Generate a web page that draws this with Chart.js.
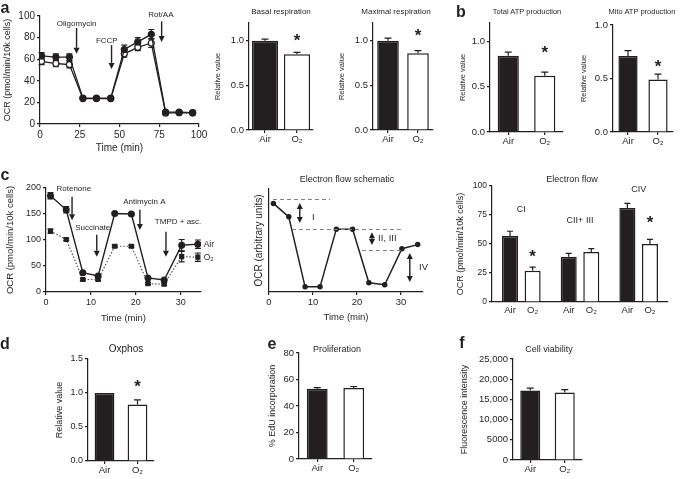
<!DOCTYPE html>
<html>
<head>
<meta charset="utf-8">
<title>Mitochondrial respiration</title>
<script src="https://cdn.jsdelivr.net/npm/chart.js@4.4.1/dist/chart.umd.min.js"></script>
<style>
  body { margin: 0; width: 685px; height: 479px; background: #fff; position: relative; overflow: hidden;
         font-family: "Liberation Sans", Arial, sans-serif; color: #231f20; }
  .lbl { position: absolute; white-space: nowrap; transform: translate(-50%, -50%); line-height: 1; }
</style>
</head>
<body>
<script>
// ---- values ----
const groups = ['Air', 'O₂'];

// a: Seahorse trace
const aTimes = [1, 10, 18.5, 27, 35.5, 44.5, 53, 61.5, 70, 79, 87.5, 96];
const aAir = [63, 62, 62, 24, 24, 24, 69, 76, 83, 11, 11, 10.5];
const aAirErr = [3, 3, 3, 1, 1, 1, 4, 4, 4.5, 1, 1, 1];
const aO2 = [58, 56, 55, 23.5, 23.5, 23.5, 65, 71, 75, 10, 10.5, 10.3];
const aO2Err = [3, 3, 3, 1, 1, 1, 3, 3, 4, 1, 1, 1];
const basal = [1.0, 0.85], basalErr = [0.02, 0.02];
const maximal = [1.0, 0.86], maximalErr = [0.03, 0.03];

// b
const totalAtp = [0.84, 0.62], totalAtpErr = [0.04, 0.04];
const mitoAtp = [0.71, 0.49], mitoAtpErr = [0.05, 0.05];

// c: electron flow
const cTimes = [1, 4.5, 8.2, 11.6, 15.3, 19, 22.7, 26.3, 30.2, 33.8];
const cAir = [185, 158, 37, 31, 151, 150, 27, 23, 90, 92];
const cAirErr = [6, 6, 2, 2, 2, 2, 2, 2, 11, 8];
const cO2 = [117, 101, 24, 24, 88, 88, 16, 15, 68, 67];
const cO2Err = [4, 2, 2, 2, 2, 2, 2, 2, 10, 8];
const schematic = [86, 73, 5, 5, 61, 61, 9, 7, 42, 46];
const complexes = ['CI', 'CII+ III', 'CIV'];
const flowAir = [57, 39, 81], flowAirErr = [4, 3, 4];
const flowO2 = [27, 43, 50], flowO2Err = [3, 3, 4];

// d, e, f
const oxphos = [1.0, 0.83], oxphosErr = [0, 0.07];
const edu = [53, 53.5], eduErr = [0.8, 1.2];
const viability = [17200, 16700], viabilityErr = [600, 700];

// ---- styling ----
const INK = '#231f20';
const FONT = '"Liberation Sans", Arial, sans-serif';
Chart.defaults.font.family = FONT;
Chart.defaults.color = INK;
Chart.defaults.animation = false;
Chart.defaults.plugins.legend.display = false;
Chart.defaults.plugins.tooltip.enabled = false;

function label(text, x, y, size, bold) {
    const d = document.createElement('div');
    d.className = 'lbl';
    d.textContent = text;
    d.style.left = x + 'px';
    d.style.top = y + 'px';
    d.style.fontSize = size + 'px';
    if (bold) d.style.fontWeight = 'bold';
    document.body.appendChild(d);
}

function drawArrow(ctx, x, y1, y2, both) {
    const dir = Math.sign(y2 - y1), hl = 6, hw = 3;
    ctx.lineWidth = 1.4;
    ctx.beginPath();
    ctx.moveTo(x, both ? y1 + dir * hl : y1);
    ctx.lineTo(x, y2 - dir * hl);
    ctx.stroke();
    const head = (y, d) => {
        ctx.beginPath();
        ctx.moveTo(x, y);
        ctx.lineTo(x - hw, y - d * hl);
        ctx.lineTo(x + hw, y - d * hl);
        ctx.closePath();
        ctx.fill();
    };
    head(y2, dir);
    if (both) head(y1, -dir);
}

// error bars, arrows, asterisks and notes
const decor = {
    id: 'decor',
    beforeDatasetsDraw(chart) {
        const ctx = chart.ctx, ys = chart.scales.y;
        const isBar = chart.config.type === 'bar';
        chart.data.datasets.forEach((ds, di) => {
            if (!ds.errors) return;
            const meta = chart.getDatasetMeta(di);
            ctx.save();
            ctx.strokeStyle = INK;
            ctx.lineWidth = 1.2;
            meta.data.forEach((el, i) => {
                const e = ds.errors[i];
                if (!e) return;
                const raw = ds.data[i];
                const v = typeof raw === 'object' ? raw.y : raw;
                const top = ys.getPixelForValue(v + e);
                const bot = isBar ? el.y : ys.getPixelForValue(v - e);
                const c = (ds.cap || 6) / 2;
                ctx.beginPath();
                ctx.moveTo(el.x, bot);
                ctx.lineTo(el.x, top);
                ctx.moveTo(el.x - c, top);
                ctx.lineTo(el.x + c, top);
                if (!isBar) {
                    ctx.moveTo(el.x - c, bot);
                    ctx.lineTo(el.x + c, bot);
                }
                ctx.stroke();
            });
            ctx.restore();
        });
    },
    afterDatasetsDraw(chart, args, opts) {
        const ctx = chart.ctx, xs = chart.scales.x, ys = chart.scales.y;
        ctx.save();
        ctx.fillStyle = INK;
        ctx.strokeStyle = INK;
        (opts.dashes || []).forEach(d => {
            ctx.save();
            ctx.strokeStyle = '#808080';
            ctx.lineWidth = 1;
            ctx.setLineDash([4, 3]);
            const y = Math.round(ys.getPixelForValue(d.y)) + 0.5;
            ctx.beginPath();
            ctx.moveTo(xs.getPixelForValue(d.x1), y);
            ctx.lineTo(xs.getPixelForValue(d.x2), y);
            ctx.stroke();
            ctx.restore();
        });
        (opts.arrows || []).forEach(a => drawArrow(ctx, xs.getPixelForValue(a.x),
            ys.getPixelForValue(a.y1), ys.getPixelForValue(a.y2), a.both));
        (opts.notes || []).forEach(n => {
            ctx.font = `${n.size || 8}px ${FONT}`;
            ctx.textAlign = n.align || 'center';
            ctx.textBaseline = 'middle';
            ctx.fillText(n.text, xs.getPixelForValue(n.x), ys.getPixelForValue(n.y));
        });
        (opts.stars || []).forEach(s => {
            const x = s.ds != null ? chart.getDatasetMeta(s.ds).data[s.i].x : xs.getPixelForValue(s.i);
            ctx.font = `bold 17px ${FONT}`;
            ctx.textAlign = 'center';
            ctx.textBaseline = 'alphabetic';
            ctx.fillText('*', x, ys.getPixelForValue(s.y) + 10);
        });
        if (opts.barLabels) {
            ctx.font = `9.5px ${FONT}`;
            ctx.textAlign = 'center';
            ctx.textBaseline = 'middle';
            chart.data.datasets.forEach((ds, di) => {
                chart.getDatasetMeta(di).data.forEach(el => {
                    ctx.fillText(ds.label, el.x, chart.chartArea.bottom + opts.barLabels);
                });
            });
        }
        ctx.restore();
    }
};

function valueAxis(min, max, step, size, fmt) {
    return {
        type: 'linear', min, max,
        ticks: {stepSize: step, includeBounds: false, padding: 2, font: {size}, callback: fmt || (v => v)},
        grid: {drawOnChartArea: false, tickLength: 3, color: INK, lineWidth: 1.2},
        border: {color: INK, width: 1.2}
    };
}

function groupAxis(size) {
    return {
        type: 'category', offset: true,
        ticks: {padding: 1, font: {size}},
        grid: {offset: false, drawOnChartArea: false, tickLength: 3, color: INK, lineWidth: 1.2},
        border: {color: INK, width: 1.2}
    };
}

const oneDecimal = v => v.toFixed(1);

function xy(xs, ys) {
    return xs.map((x, i) => ({x, y: ys[i]}));
}

function pairData(values, errors, barPct) {
    return {
        labels: groups,
        datasets: [{
            data: values, errors, cap: 7,
            backgroundColor: [INK, '#fff'], borderColor: INK, borderWidth: 1.5,
            barPercentage: barPct, categoryPercentage: 1
        }]
    };
}

// place a chart so that its plot area lands on the given rectangle
function makeChart(o) {
    const tl = o.yTitle.size * 1.2;
    const left = Math.floor(o.yTitle.x - tl / 2);
    const box = {l: left, t: o.box.t, r: o.box.r, b: o.box.b};
    const p = o.plot;
    const wrap = document.createElement('div');
    wrap.style.cssText = `position:absolute;left:${box.l}px;top:${box.t}px;width:${box.r - box.l}px;height:${box.b - box.t}px`;
    const cv = document.createElement('canvas');
    cv.width = box.r - box.l;
    cv.height = box.b - box.t;
    wrap.appendChild(cv);
    document.body.appendChild(wrap);

    const x = o.x, y = o.y;
    x.afterFit = s => { s.height = box.b - p.b; s.paddingLeft = 0; s.paddingRight = 0; };
    y.afterFit = s => { s.width = p.l - box.l; s.paddingTop = 0; s.paddingBottom = 0; };
    y.title = {display: true, text: o.yTitle.text, font: {size: o.yTitle.size},
               padding: {top: o.yTitle.x - tl / 2 - left, bottom: 0}};

    return new Chart(cv, {
        type: o.type,
        data: o.data,
        options: {
            responsive: false, maintainAspectRatio: false, animation: false,
            layout: {padding: {top: p.t - box.t, right: box.r - p.r, left: 0, bottom: 0}},
            scales: {x, y},
            plugins: {decor: o.decor || {}}
        },
        plugins: [decor]
    });
}

function timeAxis(min, max, step, size, titleSize) {
    const ax = valueAxis(min, max, step, size);
    ax.title = {display: true, text: 'Time (min)', font: {size: titleSize}, padding: 0};
    return ax;
}

// ---------- a ----------
makeChart({
    type: 'line',
    yTitle: {text: 'OCR (pmol/min/10k cells)', x: 8, size: 9},
    box: {t: 0, r: 215, b: 154},
    plot: {l: 40, t: 16, r: 199, b: 124},
    x: timeAxis(0, 100, 25, 10, 10),
    y: valueAxis(0, 100, 20, 10),
    data: {datasets: [
        {label: 'Air', data: xy(aTimes, aAir), errors: aAirErr, borderColor: INK, borderWidth: 1.3,
         pointBackgroundColor: INK, pointBorderColor: INK, pointRadius: 3, pointBorderWidth: 1.2},
        {label: 'O₂', data: xy(aTimes, aO2), errors: aO2Err, borderColor: INK, borderWidth: 1.3,
         pointBackgroundColor: '#fff', pointBorderColor: INK, pointRadius: 3, pointBorderWidth: 1.2}
    ]},
    decor: {
        arrows: [{x: 23, y1: 89, y2: 65}, {x: 45, y1: 73, y2: 51}, {x: 76.5, y1: 95, y2: 76}],
        notes: [{x: 23, y: 92.5, text: 'Oligomycin'}, {x: 42, y: 77, text: 'FCCP'}, {x: 76, y: 101, text: 'Rot/AA'}]
    }
});

makeChart({
    type: 'bar',
    yTitle: {text: 'Relative value', x: 218, size: 7.5},
    box: {t: 0, r: 335, b: 150},
    plot: {l: 249, t: 23, r: 313, b: 130},
    x: groupAxis(9.5),
    y: valueAxis(0, 1.2, 0.5, 9.5, oneDecimal),
    data: pairData(basal, basalErr, 0.82),
    decor: {stars: [{i: 1, y: 1.055}]}
});

makeChart({
    type: 'bar',
    yTitle: {text: 'Relative value', x: 342, size: 7.5},
    box: {t: 0, r: 450, b: 150},
    plot: {l: 373, t: 23, r: 433, b: 130},
    x: groupAxis(9.5),
    y: valueAxis(0, 1.2, 0.5, 9.5, oneDecimal),
    data: pairData(maximal, maximalErr, 0.72),
    decor: {stars: [{i: 1, y: 1.11}]}
});

// ---------- b ----------
makeChart({
    type: 'bar',
    yTitle: {text: 'Relative value', x: 463, size: 7.5},
    box: {t: 0, r: 580, b: 150},
    plot: {l: 490, t: 23, r: 563, b: 132},
    x: groupAxis(9.5),
    y: valueAxis(0, 1.2, 0.5, 9.5, oneDecimal),
    data: pairData(totalAtp, totalAtpErr, 0.58),
    decor: {stars: [{i: 1, y: 0.92}]}
});

makeChart({
    type: 'bar',
    yTitle: {text: 'Relative value', x: 584, size: 7.5},
    box: {t: 0, r: 685, b: 150},
    plot: {l: 613, t: 25, r: 673, b: 132},
    x: groupAxis(9.5),
    y: valueAxis(0, 1.0, 0.5, 9.5, oneDecimal),
    data: pairData(mitoAtp, mitoAtpErr, 0.64),
    decor: {stars: [{i: 1, y: 0.65}]}
});

// ---------- c ----------
makeChart({
    type: 'line',
    yTitle: {text: 'OCR (pmol/min/10k cells)', x: 10, size: 9.5},
    box: {t: 175, r: 235, b: 324},
    plot: {l: 46, t: 188, r: 201, b: 292},
    x: timeAxis(0, 34.5, 10, 9, 9.5),
    y: valueAxis(0, 200, 50, 9),
    data: {datasets: [
        {label: 'Air', data: xy(cTimes, cAir), errors: cAirErr, borderColor: INK, borderWidth: 1.4,
         pointBackgroundColor: INK, pointBorderColor: INK, pointRadius: 2.8},
        {label: 'O₂', data: xy(cTimes, cO2), errors: cO2Err, borderColor: '#555', borderWidth: 1.2,
         borderDash: [1.5, 1.8], pointStyle: 'rect', pointBackgroundColor: INK, pointBorderColor: INK, pointRadius: 2.8}
    ]},
    decor: {
        arrows: [{x: 5.8, y1: 183, y2: 138}, {x: 11.3, y1: 110, y2: 68},
                 {x: 20.9, y1: 158, y2: 119}, {x: 26.7, y1: 116, y2: 68}],
        notes: [{x: 6.2, y: 198, text: 'Rotenone'}, {x: 10.4, y: 123, text: 'Succinate'},
                {x: 21.9, y: 173, text: 'Antimycin A'}, {x: 29.4, y: 135, text: 'TMPD + asc.'},
                {x: 35.1, y: 92, text: 'Air', align: 'left', size: 8.5},
                {x: 35.1, y: 67, text: 'O₂', align: 'left', size: 8.5}]
    }
});

const schemY = valueAxis(0, 100, 25, 9);
schemY.ticks.display = false;
schemY.grid.display = false;
makeChart({
    type: 'line',
    yTitle: {text: 'OCR (arbitrary units)', x: 259, size: 10},
    box: {t: 175, r: 440, b: 323},
    plot: {l: 269, t: 189, r: 423, b: 292},
    x: timeAxis(0, 35, 10, 9.5, 9.5),
    y: schemY,
    data: {datasets: [
        {label: 'Schematic', data: xy(cTimes, schematic), borderColor: INK, borderWidth: 1.5,
         pointBackgroundColor: INK, pointBorderColor: INK, pointRadius: 2}
    ]},
    decor: {
        dashes: [{x1: 0.9, x2: 13.9, y: 90}, {x1: 5.2, x2: 30.5, y: 61}, {x1: 21.1, x2: 30.5, y: 41}],
        arrows: [{x: 7, y1: 86.4, y2: 67, both: true}, {x: 23.4, y1: 58, y2: 45.6, both: true},
                 {x: 32, y1: 37.9, y2: 9.7, both: true}],
        notes: [{x: 9.8, y: 72.8, text: 'I', align: 'left', size: 9.5},
                {x: 24.8, y: 52, text: 'II, III', align: 'left', size: 9.5},
                {x: 34.1, y: 24, text: 'IV', align: 'left', size: 9.5}]
    }
});

const flowX = groupAxis(9);
flowX.ticks.display = false;
flowX.grid.display = false;
makeChart({
    type: 'bar',
    yTitle: {text: 'OCR (pmol/min/10k cells)', x: 461, size: 9},
    box: {t: 175, r: 685, b: 320},
    plot: {l: 492, t: 186, r: 668, b: 302},
    x: flowX,
    y: valueAxis(0, 100, 25, 8.5),
    data: {labels: complexes, datasets: [
        {label: 'Air', data: flowAir, errors: flowAirErr, cap: 6, backgroundColor: INK, borderColor: INK,
         borderWidth: 1.5, categoryPercentage: 0.77, barPercentage: 0.71},
        {label: 'O₂', data: flowO2, errors: flowO2Err, cap: 6, backgroundColor: '#fff', borderColor: INK,
         borderWidth: 1.5, categoryPercentage: 0.77, barPercentage: 0.71}
    ]},
    decor: {
        barLabels: 8,
        notes: [{x: 0, y: 80, text: 'CI', size: 9}, {x: 1, y: 70, text: 'CII+ III', size: 9},
                {x: 2, y: 97, text: 'CIV', size: 9}],
        stars: [{ds: 1, i: 0, y: 43}, {ds: 1, i: 2, y: 72}]
    }
});

// ---------- d, e, f ----------
makeChart({
    type: 'bar',
    yTitle: {text: 'Relative value', x: 60, size: 9},
    box: {t: 340, r: 175, b: 479},
    plot: {l: 88, t: 359, r: 154, b: 461},
    x: groupAxis(9.5),
    y: valueAxis(0, 1.5, 0.5, 9, oneDecimal),
    data: pairData(oxphos, oxphosErr, 0.6),
    decor: {stars: [{i: 1, y: 1.16}]}
});

makeChart({
    type: 'bar',
    yTitle: {text: '% EdU incorporation', x: 273, size: 9},
    box: {t: 340, r: 395, b: 479},
    plot: {l: 299, t: 353, r: 372, b: 459},
    x: groupAxis(9.5),
    y: valueAxis(0, 80, 20, 9.5),
    data: pairData(edu, eduErr, 0.57)
});

makeChart({
    type: 'bar',
    yTitle: {text: 'Fluorescence intensity', x: 465, size: 9},
    box: {t: 340, r: 610, b: 479},
    plot: {l: 513, t: 359, r: 582, b: 460},
    x: groupAxis(9.5),
    y: valueAxis(0, 25000, 5000, 9.5, v => v >= 10000 ? v.toLocaleString('en-US') : String(v)),
    data: pairData(viability, viabilityErr, 0.58)
});

// ---------- titles and panel letters ----------
label('Basal respiration', 281, 12, 8);
label('Maximal respiration', 396, 12, 8);
label('Total ATP production', 527, 12, 7.5);
label('Mito ATP production', 642, 12, 7.5);
label('Electron flow schematic', 347, 179, 9);
label('Electron flow', 572, 179, 9);
label('Oxphos', 126, 349, 10);
label('Proliferation', 337, 349, 9);
label('Cell viability', 549, 349, 9);

label('a', 5, 8, 16, true);
label('b', 461, 12, 16, true);
label('c', 5, 175, 16, true);
label('d', 5, 344, 16, true);
label('e', 272, 344, 16, true);
label('f', 462, 343, 16, true);
</script>
</body>
</html>
